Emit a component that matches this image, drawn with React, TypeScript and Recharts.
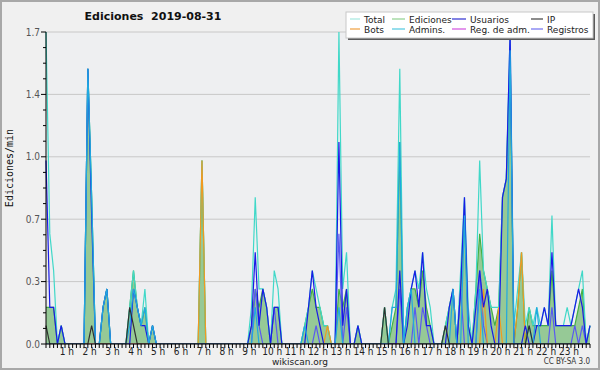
import React from 'react';
import { ComposedChart, Area, Line, XAxis, YAxis, CartesianGrid } from 'recharts';

// 10-minute slots, values in edits/min (one row per hour, 6 slots each)
const TOTAL = [
  1.7, 0.6, 0.4, 0, 0.1, 0,
  0, 0, 0, 0, 0, 1.5,
  0.8, 0, 0, 0.2, 0.3, 0,
  0, 0, 0, 0, 0.2, 0.4,
  0.2, 0.1, 0.3, 0, 0.1, 0,
  0, 0, 0, 0, 0, 0,
  0, 0, 0, 0, 0, 1.0,
  0, 0, 0, 0, 0, 0,
  0, 0, 0, 0, 0, 0,
  0.2, 0.8, 0.3, 0.3, 0.2, 0,
  0.4, 0.3, 0, 0, 0, 0,
  0, 0, 0.1, 0.2, 0.4, 0.3,
  0.2, 0.1, 0.1, 0, 0, 1.7,
  0.3, 0.5, 0, 0, 0.1, 0,
  0, 0, 0, 0, 0, 0.2,
  0, 0.2, 0.3, 1.5, 0, 0.2,
  0.3, 0.4, 0.3, 0.5, 0.3, 0.2,
  0, 0, 0, 0.1, 0.2, 0.3,
  0, 0.4, 0.8, 0.2, 0, 0.3,
  1.0, 0.4, 0.3, 0.2, 0.2, 0.2,
  0.8, 0.9, 1.7, 0.1, 0.3, 0.5,
  0.1, 0.2, 0.1, 0.2, 0.1, 0.2,
  0.1, 0.7, 0.1, 0.1, 0.1, 0.2,
  0.1, 0.2, 0.3, 0.4, 0, 0.1,
];

const EDICIONES = [
  0.2, 0.2, 0.2, 0, 0.1, 0,
  0, 0, 0, 0, 0, 1.5,
  0.8, 0, 0, 0.2, 0.3, 0,
  0, 0, 0, 0, 0.2, 0.4,
  0.2, 0.1, 0.2, 0, 0.1, 0,
  0, 0, 0, 0, 0, 0,
  0, 0, 0, 0, 0, 1.0,
  0, 0, 0, 0, 0, 0,
  0, 0, 0, 0, 0, 0,
  0.1, 0.3, 0.2, 0.3, 0.2, 0,
  0.2, 0.2, 0, 0, 0, 0,
  0, 0, 0.1, 0.2, 0.3, 0.2,
  0.2, 0.1, 0.1, 0, 0, 0.3,
  0.2, 0.3, 0, 0, 0.1, 0,
  0, 0, 0, 0, 0, 0.2,
  0, 0.1, 0.2, 1.1, 0, 0.2,
  0.3, 0.3, 0.2, 0.4, 0.2, 0.1,
  0, 0, 0, 0.1, 0.2, 0.3,
  0, 0.3, 0.7, 0.1, 0, 0.3,
  0.6, 0.4, 0.3, 0.2, 0.1, 0.2,
  0.8, 0.9, 1.6, 0, 0.2, 0.5,
  0, 0.2, 0.1, 0.1, 0.1, 0.1,
  0.1, 0.4, 0.1, 0.1, 0.1, 0.1,
  0.1, 0.1, 0.2, 0.3, 0, 0.1,
];

const USUARIOS = [
  1.0, 0.2, 0.2, 0, 0.1, 0,
  0, 0, 0, 0, 0, 1.5,
  0.7, 0, 0, 0.2, 0.3, 0,
  0, 0, 0, 0, 0, 0.3,
  0.2, 0.1, 0.1, 0, 0.1, 0,
  0, 0, 0, 0, 0, 0,
  0, 0, 0, 0, 0, 0,
  0, 0, 0, 0, 0, 0,
  0, 0, 0, 0, 0, 0,
  0.1, 0.5, 0.1, 0.3, 0.2, 0,
  0.2, 0.2, 0, 0, 0, 0,
  0, 0, 0, 0.2, 0.4, 0.2,
  0.1, 0, 0, 0, 0, 1.1,
  0.1, 0.3, 0, 0, 0.1, 0,
  0, 0, 0, 0, 0, 0,
  0, 0, 0, 0.4, 0, 0.1,
  0.3, 0.4, 0.2, 0.5, 0.1, 0.1,
  0, 0, 0, 0, 0.2, 0.3,
  0, 0.3, 0.8, 0.1, 0, 0.2,
  0.4, 0.2, 0.3, 0.1, 0, 0,
  0.8, 0.9, 1.7, 0, 0, 0,
  0.1, 0, 0, 0.1, 0.1, 0.2,
  0.1, 0.5, 0.1, 0.1, 0.1, 0.1,
  0.1, 0.2, 0.3, 0.2, 0, 0.1,
];

const IP = [
  0.1, 0, 0, 0, 0, 0,
  0, 0, 0, 0, 0, 0,
  0.1, 0, 0, 0, 0, 0,
  0, 0, 0, 0, 0.2, 0.1,
  0, 0, 0, 0, 0, 0,
  0, 0, 0, 0, 0, 0,
  0, 0, 0, 0, 0, 0,
  0, 0, 0, 0, 0, 0,
  0, 0, 0, 0, 0, 0,
  0, 0, 0, 0, 0, 0,
  0, 0, 0, 0, 0, 0,
  0, 0, 0, 0, 0, 0,
  0, 0, 0, 0, 0, 0,
  0, 0, 0, 0, 0, 0,
  0, 0, 0, 0, 0, 0.2,
  0, 0, 0, 0, 0, 0,
  0, 0, 0, 0, 0, 0,
  0, 0, 0, 0.1, 0, 0,
  0, 0, 0, 0, 0, 0,
  0, 0, 0, 0, 0, 0,
  0, 0, 0, 0, 0, 0,
  0, 0.1, 0, 0, 0, 0,
  0, 0, 0, 0, 0, 0,
  0, 0, 0, 0, 0, 0,
];

const BOTS = [
  0, 0, 0, 0, 0, 0,
  0, 0, 0, 0, 0, 0,
  0, 0, 0, 0, 0, 0,
  0, 0, 0, 0, 0, 0,
  0, 0, 0, 0, 0, 0,
  0, 0, 0, 0, 0, 0,
  0, 0, 0, 0, 0, 1.0,
  0, 0, 0, 0, 0, 0,
  0, 0, 0, 0, 0, 0,
  0, 0, 0, 0, 0, 0,
  0, 0, 0, 0, 0, 0,
  0, 0, 0, 0, 0, 0,
  0, 0, 0.1, 0, 0, 0,
  0, 0, 0, 0, 0, 0,
  0, 0, 0, 0, 0, 0,
  0, 0, 0, 0, 0, 0,
  0, 0, 0, 0, 0, 0,
  0, 0, 0, 0, 0, 0,
  0, 0, 0, 0, 0, 0,
  0, 0.3, 0, 0, 0, 0.2,
  0, 0, 0, 0, 0.2, 0.5,
  0, 0, 0, 0, 0, 0,
  0, 0, 0, 0, 0, 0,
  0, 0, 0, 0, 0, 0,
];

const ADMINS = [
  0, 0, 0, 0, 0, 0,
  0, 0, 0, 0, 0, 1.5,
  0.8, 0, 0, 0.2, 0.3, 0,
  0, 0, 0, 0, 0.1, 0.3,
  0.2, 0.1, 0.2, 0, 0.1, 0,
  0, 0, 0, 0, 0, 0,
  0, 0, 0, 0, 0, 0,
  0, 0, 0, 0, 0, 0,
  0, 0, 0, 0, 0, 0,
  0, 0.2, 0, 0, 0, 0,
  0, 0, 0, 0, 0, 0,
  0, 0, 0.1, 0, 0, 0,
  0, 0, 0, 0, 0, 0.2,
  0, 0, 0, 0, 0, 0,
  0, 0, 0, 0, 0, 0,
  0, 0.2, 0.2, 1.1, 0, 0.2,
  0.3, 0, 0, 0, 0, 0,
  0, 0, 0, 0, 0, 0.3,
  0, 0, 0.7, 0, 0, 0,
  0.3, 0, 0, 0, 0, 0,
  0, 0, 1.6, 0, 0, 0,
  0, 0.1, 0, 0.2, 0, 0,
  0, 0, 0, 0, 0, 0,
  0, 0, 0, 0, 0, 0,
];

const REG_ADM = new Array(144).fill(0);

const REGISTROS = [
  0, 0, 0, 0, 0, 0,
  0, 0, 0, 0, 0, 0,
  0, 0, 0, 0, 0, 0,
  0, 0, 0, 0, 0, 0,
  0, 0, 0, 0, 0, 0,
  0, 0, 0, 0, 0, 0,
  0, 0, 0, 0, 0, 0,
  0, 0, 0, 0, 0, 0,
  0, 0, 0, 0, 0, 0,
  0, 0.3, 0.1, 0, 0, 0,
  0.2, 0, 0, 0, 0, 0,
  0, 0, 0, 0, 0, 0.1,
  0, 0, 0, 0, 0, 0.6,
  0, 0.2, 0, 0, 0, 0,
  0, 0, 0, 0, 0, 0,
  0, 0, 0, 0.3, 0, 0,
  0, 0.2, 0, 0.2, 0.1, 0,
  0, 0, 0, 0, 0, 0,
  0, 0.3, 0, 0, 0, 0,
  0.4, 0.1, 0, 0, 0, 0,
  0, 0, 0, 0, 0, 0,
  0, 0, 0, 0, 0, 0,
  0, 0.2, 0, 0, 0, 0,
  0, 0.1, 0, 0.1, 0, 0,
];

const Y_MAJOR = [0, 0.34, 0.68, 1.02, 1.36, 1.7];
const Y_TICKS = Array.from({ length: 21 }, (_, k) => k * 0.085);
const X_TICKS = Array.from({ length: 144 }, (_, k) => k);

const LEGEND = [
  { name: 'Total', color: '#a6e8e0' },
  { name: 'Ediciones', color: '#8fd08f' },
  { name: 'Usuarios', color: '#3030d0' },
  { name: 'IP', color: '#404040' },
  { name: 'Bots', color: '#f0a040' },
  { name: 'Admins.', color: '#50c8e0' },
  { name: 'Reg. de adm.', color: '#d050e0' },
  { name: 'Registros', color: '#7070f0' },
];

const data = TOTAL.map((v, i) => ({
  i,
  total: v,
  ediciones: EDICIONES[i],
  usuarios: USUARIOS[i],
  ip: IP[i],
  bots: BOTS[i],
  admins: ADMINS[i],
  regadm: REG_ADM[i],
  registros: REGISTROS[i],
}));

const NARROW = "'Liberation Sans Narrow', 'DejaVu Sans Condensed', 'Liberation Sans', sans-serif";
const DEJAVU = "'DejaVu Sans', sans-serif";

const XTick = (props: any) => {
  const { x, y, payload } = props;
  const v = payload.value;
  const isHour = v % 6 === 0 && v > 0;
  return (
    <g>
      <line x1={x} x2={x} y1={y} y2={y + 4} stroke="#000" strokeWidth={1} />
      {isHour && (
        <text x={x - 2} y={y + 11} textAnchor="middle" fontSize={10} fill="#222" fontFamily={NARROW}>
          {`${v / 6} h`}
        </text>
      )}
    </g>
  );
};

const YTick = (props: any) => {
  const { x, y, index, payload } = props;
  const major = index % 4 === 0;
  return (
    <g>
      <line x1={x - (major ? 5 : 3)} x2={x} y1={y} y2={y} stroke="#000" strokeWidth={1} />
      {major && (
        <text x={x - 6} y={y + 3.5} textAnchor="end" fontSize={10} fill="#555" fontFamily={NARROW}>
          {Number(payload.value).toFixed(1)}
        </text>
      )}
    </g>
  );
};

const legendCols = [350, 392, 452, 531];
const legendLineW = [10, 13, 14, 12];

export default function App() {
  return (
    <div style={{ position: 'absolute', left: 0, top: 0, width: 600, height: 370, background: '#f0f0f0', overflow: 'hidden' }}>
      <div style={{ position: 'absolute', left: 0, top: 0 }}>
        <ComposedChart width={600} height={370} data={data} margin={{ top: 32, right: 10, left: 0, bottom: 0 }}>
          <CartesianGrid fill="#eeeff1" stroke="#c8c8c8" vertical={false} horizontalValues={Y_MAJOR} />
          <XAxis
            dataKey="i"
            type="number"
            domain={[0, 143]}
            ticks={X_TICKS}
            interval={0}
            height={26}
            tickSize={0}
            tickMargin={0}
            tickLine={false}
            axisLine={{ stroke: '#000' }}
            tick={<XTick />}
          />
          <YAxis
            type="number"
            domain={[0, 1.7]}
            ticks={Y_TICKS}
            interval={0}
            width={46}
            tickSize={0}
            tickMargin={0}
            tickLine={false}
            axisLine={{ stroke: '#000' }}
            tick={<YTick />}
            allowDataOverflow
          />
          <Area type="linear" dataKey="ediciones" fill="#96c996" fillOpacity={1} stroke="#44b044" strokeWidth={1.2} isAnimationActive={false} dot={false} activeDot={false} />
          <Line type="linear" dataKey="regadm" stroke="#d050e0" strokeWidth={1.2} dot={false} isAnimationActive={false} />
          <Line type="linear" dataKey="total" stroke="#40d8c8" strokeWidth={1.2} dot={false} isAnimationActive={false} />
          <Line type="linear" dataKey="registros" stroke="#5a5af0" strokeWidth={1.2} dot={false} isAnimationActive={false} />
          <Line type="linear" dataKey="bots" stroke="#f09a20" strokeWidth={1.2} dot={false} isAnimationActive={false} />
          <Line type="linear" dataKey="usuarios" stroke="#1a1ae6" strokeWidth={1.2} dot={false} isAnimationActive={false} />
          <Line type="linear" dataKey="admins" stroke="#20a8e0" strokeWidth={1.2} dot={false} isAnimationActive={false} />
          <Line type="linear" dataKey="ip" stroke="#303030" strokeWidth={1.2} dot={false} isAnimationActive={false} />
        </ComposedChart>
      </div>
      <svg width={600} height={370} style={{ position: 'absolute', left: 0, top: 0, pointerEvents: 'none' }}>
        <text x={153} y={20} textAnchor="middle" fontSize={11} fontWeight="bold" fill="#111" fontFamily={DEJAVU} style={{ whiteSpace: 'pre' }}>
          Ediciones  2019-08-31
        </text>
        <text x={0} y={0} transform="translate(13,168) rotate(-90)" textAnchor="middle" fontSize={10} fill="#111" fontFamily="'DejaVu Sans Mono', monospace">
          Ediciones/min
        </text>
        <text x={300} y={365} textAnchor="middle" fontSize={9} fill="#222" fontFamily={DEJAVU}>wikiscan.org</text>
        <text x={590} y={364} textAnchor="end" fontSize={8} fill="#333" fontFamily={NARROW}>CC BY-SA 3.0</text>
        <rect x={348} y={14} width={247} height={26} fill="#5a5a5a" />
        <rect x={346} y={12} width={247} height={26} fill="#ffffff" stroke="#c8c8c8" strokeWidth={1} />
        {LEGEND.map((e, k) => {
          const col = k % 4;
          const row = Math.floor(k / 4);
          const lx = legendCols[col];
          const ly = 19 + row * 10;
          return (
            <g key={e.name}>
              <line x1={lx} x2={lx + legendLineW[col]} y1={ly} y2={ly} stroke={e.color} strokeWidth={1.2} />
              <text x={lx + legendLineW[col] + 4} y={ly + 3.5} fontSize={9} fill="#222" fontFamily={DEJAVU}>{e.name}</text>
            </g>
          );
        })}
      </svg>
      <div style={{ position: 'absolute', left: 0, top: 0, width: 600, height: 370, boxSizing: 'border-box', border: '2px solid #a8a8a8', pointerEvents: 'none' }} />
    </div>
  );
}
